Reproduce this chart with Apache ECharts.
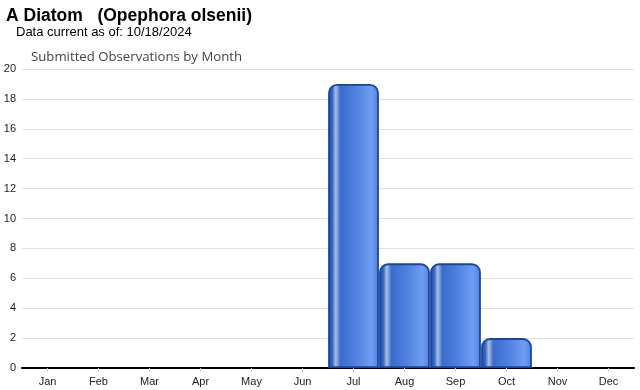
<!DOCTYPE html>
<html><head><meta charset="utf-8">
<script src="https://cdn.jsdelivr.net/npm/echarts@6/dist/echarts.min.js"></script>
<style>html,body{margin:0;padding:0;background:#fff}#c{width:640px;height:390px}</style>
</head><body><div id="c"></div>
<script>
const months = ['Jan','Feb','Mar','Apr','May','Jun','Jul','Aug','Sep','Oct','Nov','Dec'];
const counts = [0,0,0,0,0,0,19,7,7,2,0,0];
const yTicks = [0,2,4,6,8,10,12,14,16,18,20];

const chart = echarts.init(document.getElementById('c'), null, {renderer:'canvas'});
chart.setOption({
  animation:false,
  title:[
    {text:'A Diatom   (Opephora olsenii)', left:6, top:7, padding:0,
     textStyle:{fontFamily:'Liberation Sans, Arial',fontWeight:'bold',fontSize:17.5,color:'#000'}},
    {text:'Data current as of: 10/18/2024', left:16, top:26, padding:0,
     textStyle:{fontFamily:'Liberation Sans, Arial',fontWeight:'normal',fontSize:13,color:'#000'}},
    {text:'Submitted Observations by Month', left:31, top:51, padding:0,
     textStyle:{fontFamily:'Open Sans, DejaVu Sans',fontWeight:'normal',fontSize:13.2,color:'#444'}}
  ],
  grid:{left:22, right:6, top:69, bottom:22, containLabel:false},
  xAxis:{type:'category', data:months,
    axisLine:{lineStyle:{color:'#000',width:2}},
    axisTick:{show:true,alignWithLabel:true,length:4,lineStyle:{color:'#ccc'}},
    axisLabel:{fontFamily:'Liberation Sans, Arial',fontSize:11,color:'#222',margin:8}},
  yAxis:{type:'value', min:0, max:20, interval:2,
    axisLine:{show:false}, axisTick:{show:false},
    axisLabel:{fontFamily:'Liberation Sans, Arial',fontSize:11,color:'#222',margin:6,
      formatter:v=>yTicks.includes(v)?String(v):''},
    splitLine:{lineStyle:{color:'#e3e3e3',width:1}}},
  series:[{type:'bar', data:counts.map(v=>v===0?null:v), barCategoryGap:'0.5%', z:1,
    itemStyle:{
      borderRadius:[8,8,0,0],
      borderColor:'#1845a0', borderWidth:1.8,
      color:new echarts.graphic.LinearGradient(0,0,1,0,[
        {offset:0,color:'#1f4ca8'},
        {offset:0.08,color:'#3464c2'},
        {offset:0.15,color:'#aabfe2'},
        {offset:0.24,color:'#3a6ccc'},
        {offset:0.55,color:'#4f82e0'},
        {offset:0.85,color:'#6e9ef2'},
        {offset:1,color:'#5080dc'}
      ])
    }}]
});
</script></body></html>
